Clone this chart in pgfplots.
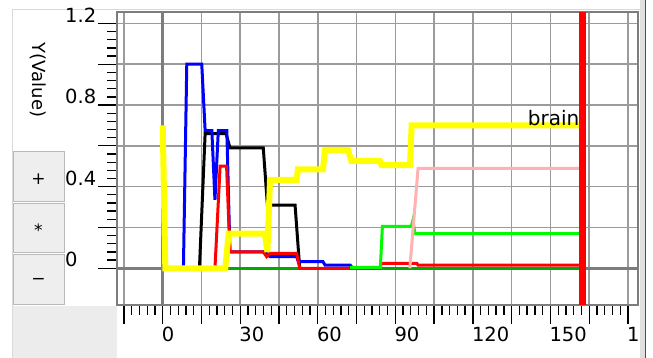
\documentclass[border=0pt]{standalone}
\usepackage{pgfplots}
\pgfplotsset{compat=1.18}
\usepackage{fontspec}
\setmainfont{DejaVu Sans}
\definecolor{gridgray}{RGB}{155,155,155}
\definecolor{axgray}{RGB}{125,125,125}
\definecolor{dgreen}{RGB}{0,170,0}
\definecolor{bgreen}{RGB}{0,250,0}
\definecolor{pinkc}{RGB}{255,178,178}
\definecolor{panelgray}{RGB}{236,236,236}
\definecolor{btngray}{RGB}{238,238,238}
\definecolor{btnborder}{RGB}{185,185,185}
\definecolor{winblue}{RGB}{50,80,140}
\definecolor{yel}{RGB}{255,255,0}
\begin{document}
\begin{tikzpicture}[x=1pt,y=1pt]
\useasboundingbox (0,0) rectangle (653,358);
\fill[white] (0,0) rectangle (653,358);
\fill[panelgray] (12,0) rectangle (117,52);
\draw[black!15, line width=1pt] (12.5,0) -- (12.5,348) -- (640,348);
\draw[btnborder, fill=btngray, line width=1pt] (13.5,156) rectangle (64,206);
\draw[btnborder, fill=btngray, line width=1pt] (13.5,105) rectangle (64,154);
\draw[btnborder, fill=btngray, line width=1pt] (13.5,53) rectangle (64,103);
\node[font=\fontsize{17}{17}\selectfont] at (38.5,179) {+};
\node[font=\fontsize{17}{17}\selectfont] at (38.5,128) {*};
\node[font=\fontsize{17}{17}\selectfont] at (38.5,77) {−};
\node[rotate=-90, font=\fontsize{18}{18}\selectfont] at (38,278) {Y(Value)};
\begin{axis}[
  at={(117pt,53pt)}, anchor=south west,
  scale only axis, width=521pt, height=293pt,
  xmin=-17.7, xmax=183.9, ymin=-0.18, ymax=1.256,
  xtick={-15,0,15,30,45,60,75,90,105,120,135,150,165,180},
  xticklabels={,0,,30,,60,,90,,120,,150,,180},
  ytick={0,0.2,0.4,0.6,0.8,1.0,1.2},
  yticklabels={0,,0.4,,0.8,,1.2},
  xtick pos=bottom, ytick pos=left,
  minor x tick num=4, minor y tick num=4,
  tick align=outside,
  major tick length=19pt, minor tick length=10pt,
  tick style={black, line width=1.3pt},
  grid=major,
  major grid style={gridgray, line width=1.6pt},
  axis line style={axgray, line width=1.5pt},
  tick label style={font=\fontsize{19.5}{20}\selectfont, inner sep=0pt},
  /pgf/number format/assume math mode=true,
  xticklabel style={anchor=north west, xshift=-1pt, yshift=-3pt},
  yticklabel style={anchor=south west, xshift=-33pt, yshift=1pt},
]
\addplot[axgray, line width=3.2pt, forget plot] coordinates {(0,-0.18) (0,1.256)};
\addplot[axgray, line width=3.2pt, forget plot] coordinates {(-17.7,0) (183.9,0)};
% dark green baseline
\addplot[dgreen, line width=3pt] coordinates {(24,0) (162.5,0)};
% black
\addplot[black, line width=3pt] coordinates {(14.2,0) (16.4,0.66) (24.5,0.66) (26,0.59) (38.9,0.59) (40.5,0.31) (51.2,0.31) (53,0)};
% blue
\addplot[blue, line width=3pt] coordinates {(8,0) (9.3,1.0) (15.1,1.0) (16.4,0.675) (19,0.675) (20.2,0.335) (21.5,0.675) (24.8,0.675) (26,0.08) (39.5,0.08) (41.5,0.057) (51.8,0.057) (52.5,0.032) (62,0.032) (62.8,0.016) (72.5,0.016) (73.5,0)};
% red
\addplot[red, line width=3pt] coordinates {(20.2,0) (22.2,0.50) (24.7,0.50) (26,0.08) (38.9,0.08) (40.2,0.057) (41.5,0.073) (51.8,0.073) (53,0) (84,0) (84.7,0.024) (98.3,0.024) (98.8,0.015) (162.5,0.015)};
% bright green
\addplot[bgreen, line width=3pt] coordinates {(72.5,0.004) (84.2,0.004) (85,0.205) (96.2,0.205) (96.8,0.235) (97.6,0.17) (162.5,0.17)};
% pink
\addplot[pinkc, line width=3pt] coordinates {(95.6,0) (98.8,0.49) (162.5,0.49)};
% yellow
\addplot[yel, line width=6pt] coordinates {(0,0.70) (1,0) (24.2,0) (25.5,0.17) (39.5,0.17) (40.5,0.08) (41.5,0.433) (51.8,0.433) (52.3,0.485) (62,0.485) (62.8,0.58) (71.7,0.58) (73,0.526) (84,0.526) (84.7,0.506) (95.7,0.506) (96.3,0.70) (163.5,0.70)};
\node[anchor=base east, font=\fontsize{20}{20}\selectfont, inner sep=0pt] at (axis cs:161.3,0.702) {brain};
% cursor line
\addplot[red, line width=7pt] coordinates {(162.5,-0.18) (162.5,1.256)};
\end{axis}
\fill[white] (640,0) rectangle (653,358);
\fill[black!12] (639.5,0) rectangle (644.5,358);
\draw[winblue, line width=1.5pt] (645.5,0) -- (645.5,358);
\end{tikzpicture}
\end{document}
